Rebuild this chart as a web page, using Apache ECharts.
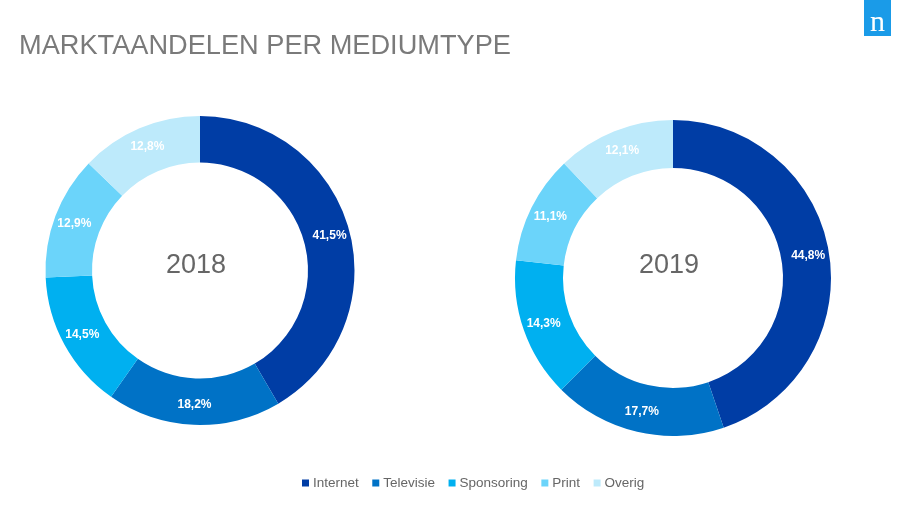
<!DOCTYPE html>
<html><head><meta charset="utf-8">
<style>html,body{margin:0;padding:0;background:#fff}#c{width:920px;height:518px}</style>
<script src="https://cdn.jsdelivr.net/npm/echarts@6/dist/echarts.min.js"></script>
</head><body><div id="c"></div>
<script>
const categories = ['Internet','Televisie','Sponsoring','Print','Overig'];
const values2018 = [41.5,18.2,14.5,12.9,12.8];
const values2019 = [44.8,17.7,14.3,11.1,12.1];
const colors = ['#003DA5','#0072C6','#00B0F0','#6BD4FA','#BDEAFB'];
const titleText = 'MARKTAANDELEN PER MEDIUMTYPE';
const font = '"Liberation Sans", Arial, sans-serif';
function donut(name, vals, center, radius){
  return {
    type:'pie', name, center, radius, startAngle:90, clockwise:true, silent:true,
    avoidLabelOverlap:false,
    itemStyle:{borderWidth:0},
    label:{show:true, position:'inside', color:'#fff', fontFamily:font, fontSize:12, fontWeight:'bold',
      formatter:p=>p.value.toFixed(1).replace('.',',')+'%'},
    labelLine:{show:false},
    data:categories.map((c,i)=>({name:c,value:vals[i]}))
  };
}
const chart = echarts.init(document.getElementById('c'),null,{renderer:'canvas'});
chart.setOption({
  animation:false,
  color:colors,
  title:[
    {text:titleText,left:14,top:28,textStyle:{fontFamily:font,fontSize:27.2,fontWeight:'normal',color:'#7a7a7a'}},
    {text:'2018',left:191,top:261,textAlign:'center',textVerticalAlign:'middle',textStyle:{fontFamily:font,fontSize:27,fontWeight:'normal',color:'#666'}},
    {text:'2019',left:664,top:261,textAlign:'center',textVerticalAlign:'middle',textStyle:{fontFamily:font,fontSize:27,fontWeight:'normal',color:'#666'}}
  ],
  legend:{
    data:categories,left:297,top:471,icon:'rect',itemWidth:7,itemHeight:7,itemGap:13.5,
    textStyle:{fontFamily:font,fontSize:13.5,color:'#666',padding:[0,0,0,-1]}
  },
  series:[
    donut('2018',values2018,[200,270.5],[108,154.5]),
    donut('2019',values2019,[673,278],[110,158])
  ],
  graphic:[
    {type:'rect',shape:{x:864,y:0,width:27,height:36},style:{fill:'#1A9BE8'}},
    {type:'text',x:877.5,y:23,style:{text:'n',fill:'#fff',font:'normal 30px "Liberation Serif", serif',align:'center',verticalAlign:'middle'}}
  ]
});
</script></body></html>
